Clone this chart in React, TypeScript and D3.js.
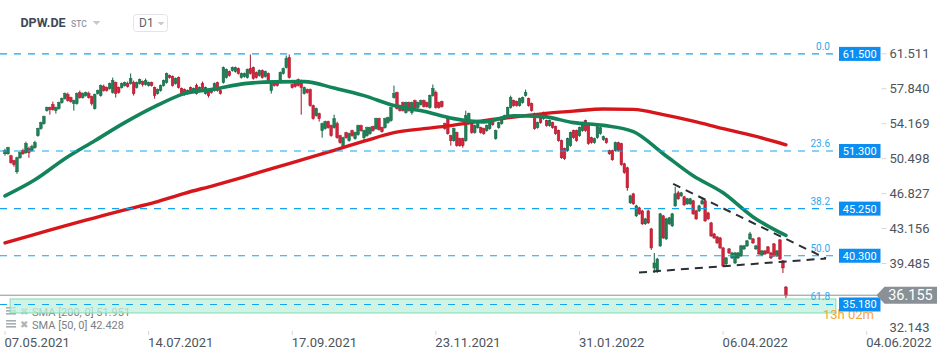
import React from "react";
import * as d3 from "d3";

const W = 949;
const H = 358;

// axis ticks
const dateTickIdx = [0, 48, 96, 144, 192, 240, 288];
const dateTickLabels = ["07.05.2021", "14.07.2021", "17.09.2021", "23.11.2021", "31.01.2022", "06.04.2022", "04.06.2022"];
const priceTicks = [61.511, 57.84, 54.169, 50.498, 46.827, 43.156, 39.485, 32.143];

// fibonacci levels
const fibLevels = [61.5, 51.3, 45.25, 40.3, 35.18];
const fibRatios = ["0.0", "23.6", "38.2", "50.0", "61.8"];

const lastPrice = 36.155;
const sma200Last = 51.951;
const sma50Last = 42.428;

// candles [open, high, low, close]
const candlesMayJul21 = [
  [51.01, 51.54, 50.8, 51.33], [51.01, 51.75, 50.91, 51.65], [50.8, 50.91, 49.96, 50.07], [50.28, 50.38, 49.65, 49.86],
  [49.12, 50.7, 48.91, 50.59], [50.59, 51.23, 50.49, 51.12], [51.33, 51.54, 50.91, 51.01], [51.12, 52.28, 51.01, 52.07],
  [51.54, 51.75, 50.59, 51.12], [51.33, 51.96, 51.23, 51.75], [51.65, 52.38, 51.54, 52.17], [52.91, 53.75, 52.8, 53.65],
  [53.65, 54.38, 53.54, 54.28], [54.17, 55.01, 54.07, 54.91], [55.54, 55.96, 55.44, 55.86], [55.86, 55.96, 55.12, 55.65],
  [56.17, 56.49, 55.54, 55.65], [55.54, 55.96, 55.23, 55.86], [55.75, 56.49, 55.65, 56.38], [56.38, 56.91, 56.28, 56.8],
  [56.8, 57.44, 56.7, 57.33], [57.23, 57.44, 56.49, 56.59], [56.91, 57.01, 56.38, 56.49], [56.28, 56.7, 55.54, 56.59],
  [56.28, 57.44, 56.17, 57.33], [57.44, 57.65, 56.8, 56.91], [56.91, 57.44, 56.8, 57.33], [57.12, 57.54, 57.01, 57.44],
  [57.33, 57.54, 56.8, 56.91], [57.01, 57.12, 56.07, 56.28], [55.75, 57.33, 55.65, 57.23], [57.33, 57.75, 57.23, 57.65],
  [57.12, 58.28, 57.01, 58.17], [58.07, 58.28, 57.54, 57.65], [57.96, 58.07, 57.54, 57.65], [57.86, 58.49, 57.75, 58.38],
  [57.44, 59.01, 57.33, 58.7], [58.49, 58.59, 56.91, 57.33], [57.96, 58.07, 57.33, 57.44], [57.96, 58.49, 57.86, 58.38],
  [58.17, 58.59, 58.07, 58.49], [58.38, 58.59, 57.96, 58.07], [58.38, 59.44, 58.28, 58.91], [58.49, 58.7, 57.12, 57.33],
  [57.96, 58.59, 57.86, 58.49], [58.38, 58.91, 58.28, 58.8], [58.59, 58.7, 58.07, 58.28], [58.28, 58.91, 58.17, 58.7],
];

const candlesJulSep21 = [
  [58.17, 58.59, 58.07, 58.49], [58.49, 58.59, 58.07, 58.17], [57.96, 58.07, 56.8, 57.12], [57.33, 57.86, 57.23, 57.75],
  [57.65, 58.28, 57.54, 58.17], [58.17, 58.8, 58.07, 58.7], [58.49, 59.54, 58.38, 59.44], [59.23, 59.33, 58.91, 59.01],
  [59.12, 59.23, 58.07, 58.17], [58.38, 59.01, 58.28, 58.91], [59.01, 59.12, 57.86, 57.96], [57.86, 57.96, 57.23, 57.33],
  [57.75, 57.86, 57.12, 57.23], [57.33, 57.75, 57.23, 57.65], [57.96, 58.07, 57.33, 57.44], [57.54, 57.96, 57.44, 57.86],
  [58.17, 58.38, 57.23, 57.33], [57.65, 58.07, 57.54, 57.96], [58.38, 58.59, 57.75, 57.86], [57.33, 58.07, 57.23, 57.96],
  [57.65, 57.75, 56.91, 57.12], [57.75, 57.86, 57.33, 57.44], [57.65, 58.49, 57.54, 58.38], [58.49, 58.59, 57.54, 57.65],
  [57.65, 57.75, 57.23, 57.33], [58.49, 60.17, 58.38, 60.07], [59.01, 59.96, 58.91, 59.86], [59.65, 59.75, 59.12, 59.23],
  [59.75, 60.17, 59.65, 60.07], [59.65, 60.17, 59.54, 60.07], [59.96, 60.07, 59.33, 59.44], [59.01, 59.54, 58.91, 59.44],
  [59.12, 59.54, 59.01, 59.44], [59.01, 59.96, 58.91, 59.86], [59.96, 61.44, 59.33, 59.44], [60.07, 60.17, 58.8, 58.91],
  [59.54, 59.65, 58.91, 59.01], [59.23, 59.86, 59.12, 59.75], [59.75, 59.86, 58.91, 59.01], [59.12, 59.75, 59.01, 59.65],
  [59.44, 59.54, 58.38, 58.49], [57.65, 58.49, 57.33, 58.38], [58.49, 58.59, 58.07, 58.17], [58.49, 58.7, 58.07, 58.17],
  [58.49, 59.65, 58.38, 59.54], [59.44, 60.07, 59.33, 59.96], [60.07, 61.33, 59.96, 61.01], [61.12, 61.44, 58.91, 59.01],
];

const candlesSepNov21 = [
  [58.28, 58.38, 57.86, 57.96], [58.49, 58.59, 57.96, 58.07], [58.8, 58.91, 58.07, 58.17], [58.7, 58.8, 55.12, 57.96],
  [57.33, 58.07, 57.23, 57.96], [57.75, 57.86, 57.33, 57.44], [57.75, 57.86, 55.96, 56.07], [56.07, 56.17, 54.59, 54.7],
  [55.01, 55.86, 54.91, 55.75], [55.23, 55.33, 54.38, 54.7], [53.44, 54.28, 52.7, 54.17], [53.65, 54.49, 53.54, 54.38],
  [54.38, 54.49, 53.65, 53.75], [53.96, 54.07, 52.8, 52.91], [53.75, 55.12, 53.65, 54.7], [54.17, 54.38, 52.59, 52.7],
  [52.91, 53.01, 52.07, 52.17], [51.65, 52.8, 51.54, 52.7], [53.23, 53.33, 52.59, 52.7], [52.38, 53.23, 52.28, 53.12],
  [53.44, 53.54, 52.8, 52.91], [52.59, 53.33, 52.49, 53.23], [53.01, 54.07, 52.91, 53.96], [53.96, 54.07, 53.33, 53.44],
  [52.7, 53.54, 52.38, 53.44], [52.91, 53.86, 52.8, 53.75], [53.12, 53.86, 53.01, 53.75], [53.86, 53.96, 53.33, 53.44],
  [53.65, 54.8, 53.54, 54.7], [54.7, 54.8, 53.44, 53.54], [53.75, 53.86, 53.23, 53.33], [53.75, 54.8, 53.65, 54.7],
  [54.28, 54.91, 54.17, 54.8], [54.49, 55.96, 54.38, 55.86], [56.91, 58.17, 56.8, 57.33], [57.44, 57.54, 55.65, 55.75],
  [56.07, 56.17, 55.44, 55.54], [56.38, 56.49, 55.44, 55.54], [55.33, 56.49, 55.23, 56.38], [56.38, 56.49, 55.44, 55.54],
  [55.33, 56.49, 55.12, 56.38], [56.59, 56.7, 55.65, 55.75], [55.86, 56.49, 55.75, 56.38], [56.17, 56.7, 56.07, 56.59],
  [56.59, 56.7, 55.86, 55.96], [56.38, 56.49, 55.86, 55.96], [55.86, 57.23, 55.75, 57.12], [57.12, 58.28, 57.01, 57.86],
];

const candlesNovJan22 = [
  [57.44, 57.65, 55.75, 55.86], [56.38, 56.49, 55.75, 55.86], [56.49, 56.59, 55.86, 55.96], [54.17, 54.28, 53.54, 53.65],
  [54.7, 54.8, 53.01, 53.12], [52.91, 53.01, 51.86, 52.38], [52.38, 53.75, 52.28, 53.65], [53.23, 53.33, 51.75, 51.86],
  [52.59, 52.7, 51.75, 51.86], [52.59, 52.7, 51.65, 51.86], [52.38, 55.54, 52.28, 55.01], [54.17, 55.33, 54.07, 55.23],
  [54.28, 54.38, 53.12, 53.23], [53.23, 54.07, 53.12, 53.96], [53.75, 54.59, 53.65, 54.49], [53.75, 53.86, 53.12, 53.23],
  [53.65, 53.75, 53.01, 53.12], [53.44, 54.07, 53.33, 53.96], [53.65, 54.38, 53.54, 54.28], [54.28, 54.38, 53.96, 54.07],
  [52.59, 53.54, 52.49, 53.44], [53.75, 54.38, 53.65, 54.28], [54.17, 54.91, 54.07, 54.8], [54.7, 55.12, 54.59, 55.01],
  [54.8, 55.96, 54.7, 55.86], [55.86, 57.12, 55.75, 56.91], [56.59, 56.7, 55.96, 56.07], [56.49, 56.59, 55.96, 56.07],
  [56.07, 56.91, 55.96, 56.8], [56.38, 57.01, 56.28, 56.91], [57.12, 57.75, 57.01, 57.44], [56.8, 56.91, 55.96, 56.07],
  [56.28, 56.38, 55.44, 55.54], [55.23, 55.33, 53.54, 53.65], [53.75, 54.38, 53.65, 54.28], [54.8, 54.91, 54.17, 54.28],
  [54.7, 55.44, 54.59, 55.33], [54.49, 54.59, 53.86, 53.96], [53.96, 54.59, 53.86, 54.49], [54.28, 54.38, 53.65, 53.75],
  [53.86, 53.96, 53.01, 53.12], [53.44, 53.54, 52.28, 52.38], [52.38, 52.49, 50.49, 50.59], [51.54, 51.65, 50.38, 50.49],
  [51.33, 52.7, 51.23, 52.59], [51.86, 53.33, 51.75, 53.23], [53.44, 53.54, 52.59, 52.7], [53.44, 53.54, 52.28, 52.38],
];

const candlesJanApr22 = [
  [52.91, 53.86, 52.8, 53.75], [53.44, 54.38, 53.33, 54.28], [54.49, 54.59, 53.33, 53.44], [54.17, 54.28, 51.96, 52.07],
  [52.7, 52.8, 52.07, 52.17], [52.17, 52.7, 52.07, 52.59], [52.7, 54.17, 52.59, 53.96], [53.12, 53.86, 53.01, 53.75],
  [52.49, 52.91, 52.38, 52.8], [52.59, 52.7, 52.07, 52.17], [51.33, 51.44, 50.91, 51.01], [51.33, 51.44, 50.28, 50.38],
  [51.33, 52.28, 51.23, 52.17], [52.17, 52.28, 51.23, 51.33], [52.07, 52.17, 49.75, 49.86], [49.96, 50.07, 48.91, 49.02],
  [49.54, 49.65, 47.12, 47.44], [45.86, 46.7, 45.75, 46.59], [46.8, 46.91, 45.65, 45.75], [44.49, 45.65, 44.38, 45.54],
  [45.33, 45.44, 44.59, 44.7], [45.01, 45.12, 43.54, 43.65], [43.65, 44.28, 43.54, 44.17], [45.01, 45.12, 43.65, 43.75],
  [43.12, 43.23, 40.91, 41.12], [39.02, 40.59, 38.49, 39.54], [38.7, 40.07, 38.49, 39.96], [41.33, 44.8, 41.23, 44.7],
  [44.49, 44.59, 42.07, 42.17], [42.07, 44.28, 41.96, 44.17], [43.65, 44.38, 43.54, 44.28], [43.44, 44.8, 43.33, 44.7],
  [45.54, 47.54, 45.44, 46.8], [46.91, 47.12, 46.17, 46.28], [46.59, 47.01, 46.49, 46.91], [46.49, 46.59, 45.54, 45.65],
  [45.75, 46.38, 45.65, 46.28], [45.75, 46.38, 45.65, 46.28], [46.07, 46.17, 44.59, 44.7], [45.01, 45.12, 44.07, 44.17],
  [45.01, 45.65, 44.91, 45.54], [45.75, 46.38, 45.65, 46.07], [46.07, 46.17, 43.86, 43.96], [44.8, 44.91, 44.07, 44.17],
  [43.75, 43.86, 42.28, 42.38], [42.59, 42.7, 42.07, 42.17], [42.28, 42.38, 41.54, 41.65], [42.17, 42.28, 41.02, 41.12],
];

const candlesAprMay22 = [
  [41.12, 41.23, 39.12, 39.23], [39.44, 40.17, 39.33, 40.07], [41.02, 41.12, 40.49, 40.59], [40.07, 40.7, 39.96, 40.59],
  [39.54, 40.7, 39.44, 40.59], [40.07, 40.7, 39.96, 40.59], [40.28, 41.44, 40.17, 41.33], [41.02, 41.44, 40.91, 41.33],
  [41.33, 41.96, 41.23, 41.86], [42.07, 42.81, 41.96, 42.59], [42.07, 42.17, 41.54, 41.65], [41.02, 41.44, 40.91, 41.33],
  [42.17, 42.28, 40.38, 40.49], [40.38, 40.91, 40.28, 40.8], [40.8, 40.91, 40.38, 40.49], [41.23, 41.33, 40.49, 40.59],
  [40.59, 40.7, 39.96, 40.07], [41.54, 41.65, 40.17, 40.28], [40.28, 40.91, 40.17, 40.8], [41.96, 42.07, 39.86, 39.96],
  [39.75, 39.86, 38.49, 39.02], [37.01, 37.12, 35.86, 36.155],
];

// moving averages read every 10 bars
const smaIdx = [0, 10, 20, 30, 40, 50, 60, 70, 80, 90, 100, 110, 120, 130, 140, 150, 160, 170, 180, 190, 200, 210, 220, 230, 240, 250, 261];
const sma50 = [46.59, 48.28, 50.49, 52.38, 54.28, 55.96, 57.33, 57.8, 58.38, 58.56, 58.59, 57.91, 57.12, 56.07, 55.47, 54.7, 54.36, 55.01, 54.91, 54.28, 53.99, 53.33, 51.02, 48.7, 46.91, 44.38, 42.428];
const sma200 = [41.65, 42.54, 43.44, 44.28, 45.12, 45.91, 46.86, 47.7, 48.59, 49.54, 50.44, 51.38, 52.33, 53.23, 53.65, 54.02, 54.49, 54.86, 55.23, 55.49, 55.72, 55.67, 55.12, 54.44, 53.65, 52.91, 51.951];

// triangle trend lines [barIndex, price]
const upperTrend = [[223.3, 47.84], [274.4, 40.01]];
const lowerTrend = [[211.9, 38.54], [274.4, 40.01]];

// support zone
const zoneIdx = [1.7, 277.7];
const zonePrice = [35.76, 34.29];

const FONT = "Roboto, 'Noto Sans', sans-serif";

export default function App() {
  const candles = [
    ...candlesMayJul21, ...candlesJulSep21, ...candlesSepNov21,
    ...candlesNovJan22, ...candlesJanApr22, ...candlesAprMay22,
  ].map((d, i) => ({ i, o: d[0], h: d[1], l: d[2], c: d[3] }));

  const x = d3.scaleLinear().domain([0, 288]).range([5, 866.7]);
  const y = d3.scaleLinear().domain([32.143, 61.511]).range([333.4, 53.8]);

  const fibRight = 836;
  const tagX = 839;

  const line = d3.line<number[]>()
    .x(d => x(d[0]))
    .y(d => y(d[1]))
    .curve(d3.curveMonotoneX);

  const sma50Path = line(smaIdx.map((v, k) => [v, sma50[k]])) || "";
  const sma200Path = line(smaIdx.map((v, k) => [v, sma200[k]])) || "";
  const straight = d3.line<number[]>().x(d => x(d[0])).y(d => y(d[1]));

  const fmt = d3.format(".3f");
  const bodyW = 2.6;

  return (
    <svg width={W} height={H} style={{ position: "absolute", left: 0, top: 0, background: "#fff" }} fontFamily={FONT}>
      {/* header */}
      <text x={20.5} y={27} fontSize={12.5} fontWeight={700} fill="#3d4853">DPW.DE</text>
      <text x={71} y={27} fontSize={8.5} fontWeight={500} fill="#8d98a3">STC</text>
      <path d="M92.5,21 L100.5,21 L96.5,25 Z" fill="#c5cbd1" />
      <rect x={133.5} y={14.5} width={34} height={17} rx={3} fill="#fff" stroke="#e1e4e8" />
      <text x={139} y={27} fontSize={12} fill="#5a636c">D1</text>
      <path d="M157.5,22 L164.5,22 L161,25.5 Z" fill="#c5cbd1" />

      {/* candles */}
      {candles.map(d => {
        const up = d.c >= d.o;
        const cx = x(d.i);
        const top = y(Math.max(d.o, d.c));
        const bot = y(Math.min(d.o, d.c));
        const col = up ? "#1f7f57" : "#d6233a";
        const edge = up ? "#11613f" : "#a3162a";
        return (
          <g key={d.i}>
            <line x1={cx} x2={cx} y1={y(d.h)} y2={y(d.l)} stroke={edge} strokeWidth={1} />
            <rect x={cx - bodyW / 2} y={top} width={bodyW} height={Math.max(1, bot - top)} fill={col} stroke={edge} strokeWidth={0.5} />
          </g>
        );
      })}

      {/* moving averages */}
      <path d={sma200Path} fill="none" stroke="#d7161c" strokeWidth={3.4} strokeLinecap="round" />
      <path d={sma50Path} fill="none" stroke="#13835a" strokeWidth={3.6} strokeLinecap="round" />

      {/* legend */}
      {[["SMA [200, 0] ", sma200Last], ["SMA [50, 0] ", sma50Last]].map((l, k) => (
        <g key={k} transform={`translate(0,${k * 13})`}>
          <rect x={6} y={307} width={10} height={1.6} fill="#a8adb2" />
          <rect x={6} y={310} width={10} height={1.6} fill="#a8adb2" />
          <rect x={6} y={313} width={10} height={1.6} fill="#a8adb2" />
          <text x={19.5} y={315} fontSize={10} fill="#b0b4b8">✖</text>
          <text x={32} y={316} fontSize={11} fill="#7a7f85">{l[0]}{fmt(l[1] as number)}</text>
        </g>
      ))}

      {/* support zone */}
      <rect x={x(zoneIdx[0])} y={y(zonePrice[0])} width={x(zoneIdx[1]) - x(zoneIdx[0])} height={y(zonePrice[1]) - y(zonePrice[0])}
        fill="#bff0dc" fillOpacity={0.75} stroke="#86d9b6" strokeWidth={1} />

      {/* last price line */}
      <line x1={0} x2={878} y1={y(lastPrice)} y2={y(lastPrice)} stroke="#8b9095" strokeWidth={1} />

      {/* fibonacci */}
      {fibLevels.map((v, k) => (
        <g key={v}>
          <line x1={0} x2={fibRight} y1={y(v)} y2={y(v)} stroke="#12a5ee" strokeWidth={1.2} strokeDasharray="7,7" />
          <text x={830} y={y(v) - 4} fontSize={10} textAnchor="end" fill="#2aa9ef">{fibRatios[k]}</text>
        </g>
      ))}

      {/* triangle */}
      <path d={straight(upperTrend) || ""} fill="none" stroke="#2a2f36" strokeWidth={2} strokeDasharray="8,6" />
      <path d={straight(lowerTrend) || ""} fill="none" stroke="#2a2f36" strokeWidth={2} strokeDasharray="8,6" />

      {/* countdown text, partly under the 35.180 tag */}
      <text x={823} y={319} fontSize={13} fill="#f4a53c">13h 02m</text>

      {/* fib tags */}
      {fibLevels.map(v => (
        <g key={"t" + v}>
          <rect x={tagX} y={y(v) - 7} width={41.5} height={14} fill="#0b8ef2" />
          <text x={tagX + 20.75} y={y(v) + 4} fontSize={11} textAnchor="middle" fill="#fff">{fmt(v)}</text>
        </g>
      ))}

      {/* y axis */}
      {priceTicks.map(v => {
        const ty = Math.min(y(v), 327.5);
        return (
          <g key={v}>
            {v !== 32.143 && <line x1={881.5} x2={886.5} y1={y(v)} y2={y(v)} stroke="#d5d8db" />}
            <text x={889.5} y={ty + 4.6} fontSize={13} fill="#4d545b">{fmt(v)}</text>
          </g>
        );
      })}

      {/* last price tag */}
      <path d={`M876.5,${y(lastPrice)} L884.5,${y(lastPrice) - 8.5} L937,${y(lastPrice) - 8.5} L937,${y(lastPrice) + 8.5} L884.5,${y(lastPrice) + 8.5} Z`} fill="#8a9196" />
      <text x={910.5} y={y(lastPrice) + 5} fontSize={14.5} textAnchor="middle" fill="#fff">{fmt(lastPrice)}</text>

      {/* x axis */}
      {dateTickIdx.map((t, k) => (
        <g key={t}>
          <line x1={x(t)} x2={x(t)} y1={331} y2={335} stroke="#d5d8db" />
          <text x={x(t) - 0.5} y={346.5} fontSize={13} fill="#4d545b">{dateTickLabels[k]}</text>
        </g>
      ))}
    </svg>
  );
}
